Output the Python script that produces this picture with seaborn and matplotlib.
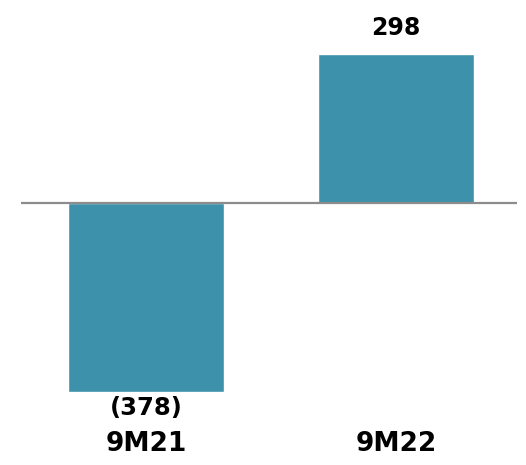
import matplotlib
matplotlib.use('Agg')
import matplotlib.pyplot as plt
import seaborn as sns
import pandas as pd

# ==================== 数据 ====================
categories = ['9M21', '9M22']
values = [-378, 298]
bar_color = '#3d91aa'

df = pd.DataFrame({'period': categories, 'value': values})

sns.set_style('white')
plt.rcParams['font.family'] = ['DejaVu Sans']

fig = plt.figure(figsize=(5.26, 4.65), dpi=100)
# axes: x 21..517 px, y 20..400 px
ax = fig.add_axes([21 / 526, 1 - 400 / 465, 496 / 526, 380 / 465])

sns.barplot(data=df, x='period', y='value', hue='period',
            palette=[bar_color] * len(categories), legend=False,
            width=0.624, saturation=1, ax=ax)

ax.set_xlim(-0.5, 1.484)
ax.set_ylim(-394, 366)
ax.axhline(0, color='#8c8c8c', lw=1.6, zorder=5)

# 数值标签
for i, v in enumerate(values):
    txt = f'{v}' if v >= 0 else f'({abs(v)})'
    if v >= 0:
        ax.annotate(txt, (i, v), xytext=(0, 10), textcoords='offset points',
                    ha='center', va='bottom', fontsize=17, fontweight='bold',
                    color='black')
    else:
        ax.annotate(txt, (i, v), xytext=(0, -3), textcoords='offset points',
                    ha='center', va='top', fontsize=17.5, fontweight='bold',
                    color='black')

ax.set_xlabel('')
ax.set_ylabel('')
ax.set_yticks([])
ax.tick_params(axis='x', length=0, pad=22, labelsize=19, labelcolor='black')
for lbl in ax.get_xticklabels():
    lbl.set_fontweight('bold')
sns.despine(ax=ax, left=True, bottom=True)

fig.savefig('out.png', dpi=100)
